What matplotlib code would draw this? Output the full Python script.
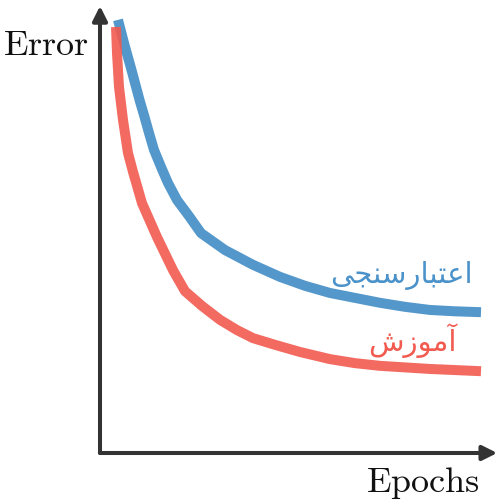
import matplotlib
matplotlib.use("Agg")
import matplotlib.pyplot as plt

# data (epochs, error)
val_x = [0.45, 0.6125, 0.7875, 0.9875, 1.1125, 1.225, 1.35, 1.525, 1.7, 1.925, 2.225, 2.525,
         3.125, 3.825, 4.5, 5.125, 5.75, 6.375, 7.0, 7.625, 8.25, 8.875, 9.525]
val_y = [0.969, 0.913, 0.857, 0.790, 0.752, 0.716, 0.678, 0.640, 0.604, 0.566, 0.530, 0.492,
         0.454, 0.421, 0.394, 0.374, 0.358, 0.347, 0.336, 0.327, 0.320, 0.317, 0.315]
train_x = [0.4, 0.425, 0.475, 0.575, 0.7, 0.825, 1.05, 1.425, 1.825, 2.125,
           2.55, 3.0, 3.425, 3.825, 4.375, 5.0, 5.75, 6.375, 7.0, 8.25, 9.525]
train_y = [0.953, 0.895, 0.819, 0.745, 0.671, 0.629, 0.559, 0.483, 0.409, 0.362,
           0.329, 0.298, 0.275, 0.257, 0.242, 0.226, 0.210, 0.201, 0.195, 0.188, 0.183]

# Persian labels (pre-shaped presentation forms, visual order)
val_label = "\uFEF0\uFEA0\uFEE8\uFEB3\uFEAD\uFE8E\uFE92\uFE98\uFECB\uFE8D"   # اعتبارسنجی
train_label = "\uFEB5\uFEAF\uFEEE\uFEE3\uFE81"                              # آموزش
x_label = "Epochs"
y_label = "Error"

plt.rcParams['mathtext.fontset'] = 'cm'

fig = plt.figure(figsize=(5, 5), dpi=100)
ax = fig.add_axes([0.2, 0.094, 0.8, 0.894])
ax.set_xlim(0, 10)
ax.set_ylim(0, 1)
ax.axis('off')

blue = '#4a92c9'
red = '#f25a50'

ax.plot(val_x, val_y, color=blue, lw=7.2, solid_capstyle='butt', solid_joinstyle='round', alpha=0.95)
ax.plot(train_x, train_y, color=red, lw=7.2, solid_capstyle='butt', solid_joinstyle='round', alpha=0.9)

axis_col = '#333333'
ax.annotate('', xy=(9.93, 0), xytext=(0, 0), xycoords='data',
            arrowprops=dict(arrowstyle='-|>', lw=2.9, color=axis_col, mutation_scale=22,
                            shrinkA=0, shrinkB=0), annotation_clip=False)
ax.annotate('', xy=(0, 1.0), xytext=(0, 0), xycoords='data',
            arrowprops=dict(arrowstyle='-|>', lw=2.9, color=axis_col, mutation_scale=22,
                            shrinkA=0, shrinkB=0), annotation_clip=False)

ax.text(9.325, 0.380, val_label, color=blue, fontsize=21, family=['DejaVu Sans'],
        ha='right', va='baseline')
ax.text(8.925, 0.228, train_label, color=red, fontsize=21, family=['DejaVu Sans'],
        ha='right', va='baseline')

fig.text(0.006, 0.89, r'$\mathrm{%s}$' % y_label, fontsize=26, ha='left', va='baseline', color='#111111')
fig.text(0.96, 0.016, r'$\mathrm{%s}$' % x_label, fontsize=26, ha='right', va='baseline', color='#111111')

fig.savefig('out.png', dpi=100)
